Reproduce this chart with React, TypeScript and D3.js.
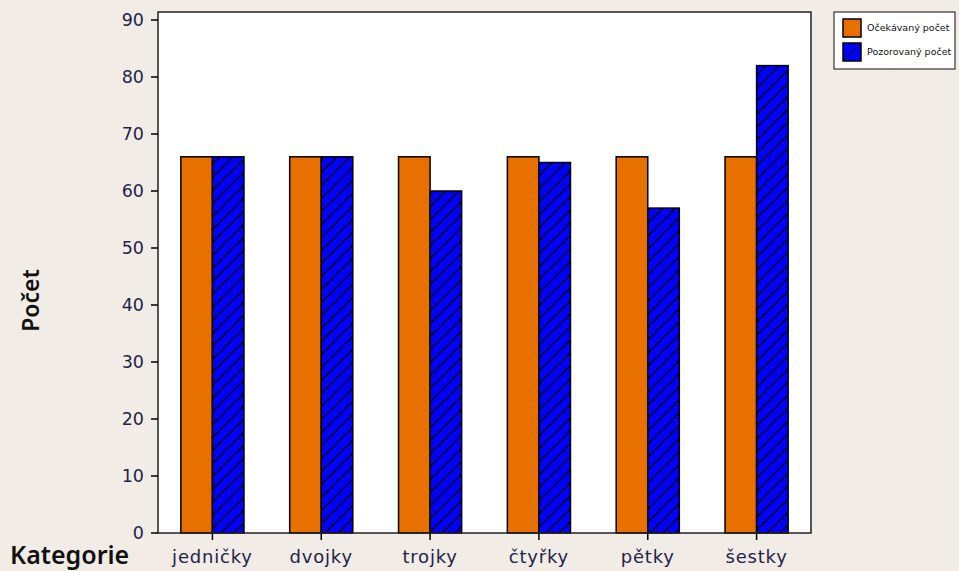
import React from "react";
import * as d3 from "d3";

const categories = ["jedničky", "dvojky", "trojky", "čtyřky", "pětky", "šestky"];
const expected = [66, 66, 66, 66, 66, 66];
const observed = [66, 66, 60, 65, 57, 82];
const yTicks = [0, 10, 20, 30, 40, 50, 60, 70, 80, 90];
const seriesNames = ["Očekávaný počet", "Pozorovaný počet"];

const W = 959;
const H = 571;
const plot = { left: 158, right: 811, top: 12, bottom: 533 };

export default function App() {
  const x = d3
    .scaleBand<string>()
    .domain(categories)
    .range([plot.left, plot.right])
    .paddingInner(0.42)
    .paddingOuter(0.21);
  const y = d3.scaleLinear().domain([0, 90]).range([plot.bottom, 20]);
  const bw = x.bandwidth() / 2;
  const tickFont = "'DejaVu Sans', Verdana, sans-serif";
  const textColor = "#23234a";
  const labelFont = "'Noto Sans', 'Open Sans', sans-serif";

  return (
    <svg
      width={W}
      height={H}
      style={{ position: "absolute", left: 0, top: 0, background: "#f1ede6" }}
    >
      <defs>
        <pattern id="hatch" patternUnits="userSpaceOnUse" width="13" height="13">
          <rect width="13" height="13" fill="#0000ff" />
          <path d="M-2,2 l4,-4 M0,13 l13,-13 M11,15 l4,-4" stroke="#000" strokeWidth="1.3" />
        </pattern>
      </defs>
      <rect x={0} y={0} width={W} height={H} fill="#f1ede6" />
      <rect
        x={plot.left}
        y={plot.top}
        width={plot.right - plot.left}
        height={plot.bottom - plot.top}
        fill="#fff"
      />
      {categories.map((c, i) => {
        const x0 = x(c)!;
        return (
          <g key={c}>
            <rect
              x={x0}
              y={y(expected[i])}
              width={bw}
              height={y(0) - y(expected[i])}
              fill="#e87000"
              stroke="#000"
              strokeWidth={1.5}
            />
            <rect
              x={x0 + bw}
              y={y(observed[i])}
              width={bw}
              height={y(0) - y(observed[i])}
              fill="url(#hatch)"
              stroke="#000"
              strokeWidth={1.5}
            />
            <line
              x1={x0 + bw}
              x2={x0 + bw}
              y1={plot.bottom}
              y2={plot.bottom + 7}
              stroke="#000"
              strokeWidth={1.5}
            />
            <text
              x={x0 + bw}
              y={plot.bottom + 30}
              textAnchor="middle"
              fontFamily={tickFont}
              fontSize={18}
              letterSpacing={0.8}
              fill={textColor}
            >
              {c}
            </text>
          </g>
        );
      })}
      <rect
        x={plot.left}
        y={plot.top}
        width={plot.right - plot.left}
        height={plot.bottom - plot.top}
        fill="none"
        stroke="#222"
        strokeWidth={1.5}
      />
      {yTicks.map((t) => (
        <g key={t}>
          <line
            x1={plot.left - 7}
            x2={plot.left}
            y1={y(t)}
            y2={y(t)}
            stroke="#000"
            strokeWidth={1.5}
          />
          <text
            x={plot.left - 14}
            y={y(t)}
            dy="0.36em"
            textAnchor="end"
            fontFamily={tickFont}
            fontSize={17.5}
            fill={textColor}
          >
            {t}
          </text>
        </g>
      ))}
      <text
        transform={`translate(39,${(plot.top + plot.bottom) / 2 + 28}) rotate(-90)`}
        textAnchor="middle"
        fontFamily={labelFont}
        fontWeight={600}
        fontSize={23}
        fill="#111"
      >
        Počet
      </text>
      <text
        x={10}
        y={564}
        fontFamily={labelFont}
        fontWeight={600}
        fontSize={25}
        fill="#111"
      >
        Kategorie
      </text>
      <g>
        <rect x={834} y={12} width={121} height={57} fill="#fff" stroke="#333" strokeWidth={1.2} />
        {seriesNames.map((n, i) => (
          <g key={n} transform={`translate(843,${19 + i * 24})`}>
            <rect
              width={18}
              height={18}
              fill={i === 0 ? "#e87000" : "#0000ff"}
              stroke="#000"
              strokeWidth={1.5}
            />
            {i === 1 && <line x1={0} y1={18} x2={18} y2={0} stroke="#000" strokeWidth={1} />}
            <text
              x={24}
              y={9}
              dy="0.35em"
              fontFamily={tickFont}
              fontSize={9.5}
              fill="#111"
            >
              {n}
            </text>
          </g>
        ))}
      </g>
    </svg>
  );
}
